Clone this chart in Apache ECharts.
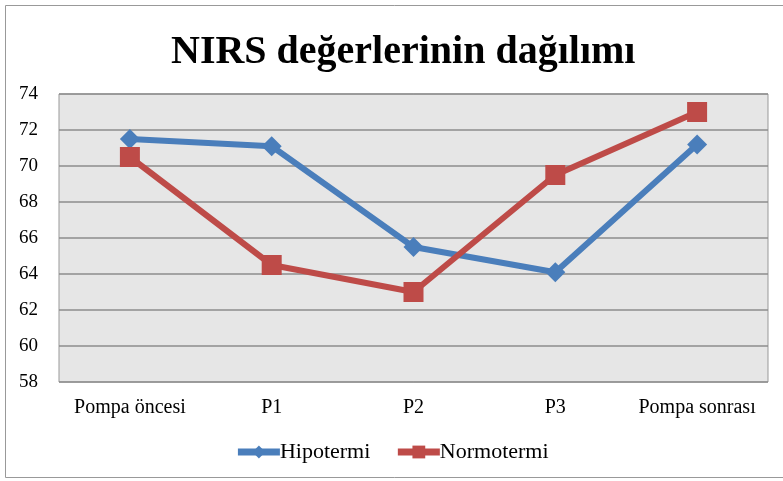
<!DOCTYPE html>
<html>
<head>
<meta charset="utf-8">
<style>
  html, body { margin: 0; padding: 0; background: #fff; }
  #main { width: 783px; height: 481px; }
</style>
<script src="https://cdn.jsdelivr.net/npm/echarts@6/dist/echarts.min.js"></script>
</head>
<body>
<div id="main"></div>
<script>
// veriler
var categories = ['Pompa öncesi', 'P1', 'P2', 'P3', 'Pompa sonrası'];
var hipotermi = [71.5, 71.1, 65.5, 64.1, 71.2];
var normotermi = [70.5, 64.5, 63.0, 69.5, 73.0];

var serif = '"Liberation Serif", "DejaVu Serif", serif';

var chart = echarts.init(document.getElementById('main'));
chart.setOption({
  animation: false,
  title: {
    text: 'NIRS değerlerinin dağılımı',
    left: 166,
    top: 28,
    textStyle: { fontFamily: serif, fontSize: 40, fontWeight: 'bold', color: '#000' }
  },
  graphic: [{
    type: 'rect',
    shape: { x: 5.5, y: 5.5, width: 800, height: 472 },
    style: { fill: 'none', stroke: '#999', lineWidth: 1 },
    silent: true
  }],
  grid: {
    left: 59, right: 15, top: 94, bottom: 99,
    show: true,
    backgroundColor: '#e6e6e6',
    borderColor: '#999',
    borderWidth: 1
  },
  legend: {
    bottom: 13,
    left: 'center',
    itemWidth: 42,
    itemHeight: 16,
    itemGap: 24,
    lineStyle: { width: 7 },
    textStyle: { fontFamily: serif, fontSize: 22, color: '#000', padding: [0, 0, 0, -5] },
    data: ['Hipotermi', 'Normotermi']
  },
  xAxis: {
    type: 'category',
    data: categories,
    axisLine: { show: false },
    axisTick: { show: false },
    axisLabel: { fontFamily: serif, fontSize: 20, color: '#000', margin: 16, interval: 0 }
  },
  yAxis: {
    type: 'value',
    min: 58,
    max: 74,
    interval: 2,
    axisLine: { show: false },
    axisTick: { show: false },
    axisLabel: { fontFamily: serif, fontSize: 19, color: '#000', margin: 21 },
    splitLine: { lineStyle: { color: '#8c8c8c', width: 1.5 } }
  },
  series: [
    {
      name: 'Hipotermi',
      type: 'line',
      data: hipotermi,
      symbol: 'diamond',
      symbolSize: 20,
      color: '#4a7ebb',
      lineStyle: { width: 6, color: '#4a7ebb' },
      itemStyle: { color: '#4a7ebb' }
    },
    {
      name: 'Normotermi',
      type: 'line',
      data: normotermi,
      symbol: 'rect',
      symbolSize: 20,
      color: '#be4b48',
      lineStyle: { width: 6, color: '#be4b48' },
      itemStyle: { color: '#be4b48' }
    }
  ]
});
</script>
</body>
</html>
